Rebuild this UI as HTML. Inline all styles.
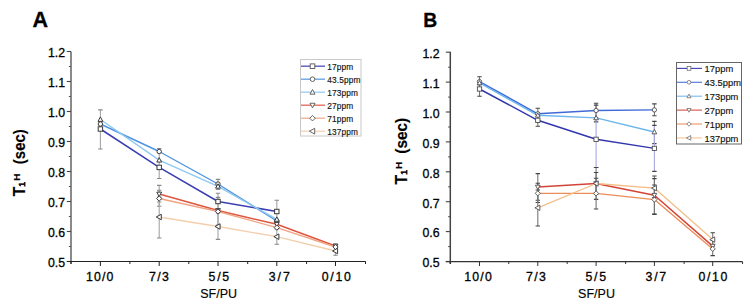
<!DOCTYPE html><html><head><meta charset="utf-8"><style>html,body{margin:0;padding:0;background:#fff;width:749px;height:307px;overflow:hidden}svg{display:block}text{font-family:"Liberation Sans",sans-serif}</style></head><body>
<svg width="749" height="307" viewBox="0 0 749 307">
<text x="32.6" y="26.8" font-size="21.5" font-weight="bold" fill="#000" stroke="#000" stroke-width="0.3">A</text>
<path d="M71 51.5V264" stroke="#8a8a8a" stroke-width="2" fill="none"/>
<path d="M66.8 261.5H71" stroke="#444" stroke-width="1.1" fill="none"/>
<path d="M68.8 246.5H71" stroke="#555" stroke-width="1" fill="none"/>
<text x="65" y="266.8" font-size="12.3" text-anchor="end" fill="#000" stroke="#000" stroke-width="0.3">0.5</text>
<path d="M66.8 231.5H71" stroke="#444" stroke-width="1.1" fill="none"/>
<path d="M68.8 216.5H71" stroke="#555" stroke-width="1" fill="none"/>
<text x="65" y="236.8" font-size="12.3" text-anchor="end" fill="#000" stroke="#000" stroke-width="0.3">0.6</text>
<path d="M66.8 201.5H71" stroke="#444" stroke-width="1.1" fill="none"/>
<path d="M68.8 186.5H71" stroke="#555" stroke-width="1" fill="none"/>
<text x="65" y="206.8" font-size="12.3" text-anchor="end" fill="#000" stroke="#000" stroke-width="0.3">0.7</text>
<path d="M66.8 171.5H71" stroke="#444" stroke-width="1.1" fill="none"/>
<path d="M68.8 156.5H71" stroke="#555" stroke-width="1" fill="none"/>
<text x="65" y="176.8" font-size="12.3" text-anchor="end" fill="#000" stroke="#000" stroke-width="0.3">0.8</text>
<path d="M66.8 141.5H71" stroke="#444" stroke-width="1.1" fill="none"/>
<path d="M68.8 126.5H71" stroke="#555" stroke-width="1" fill="none"/>
<text x="65" y="146.8" font-size="12.3" text-anchor="end" fill="#000" stroke="#000" stroke-width="0.3">0.9</text>
<path d="M66.8 111.5H71" stroke="#444" stroke-width="1.1" fill="none"/>
<path d="M68.8 96.5H71" stroke="#555" stroke-width="1" fill="none"/>
<text x="65" y="116.8" font-size="12.3" text-anchor="end" fill="#000" stroke="#000" stroke-width="0.3">1.0</text>
<path d="M66.8 81.5H71" stroke="#444" stroke-width="1.1" fill="none"/>
<path d="M68.8 66.5H71" stroke="#555" stroke-width="1" fill="none"/>
<text x="65" y="86.8" font-size="12.3" text-anchor="end" fill="#000" stroke="#000" stroke-width="0.3">1.1</text>
<path d="M66.8 51.5H71" stroke="#444" stroke-width="1.1" fill="none"/>
<text x="65" y="56.8" font-size="12.3" text-anchor="end" fill="#000" stroke="#000" stroke-width="0.3">1.2</text>
<path d="M66.8 261.5H365.7" stroke="#222" stroke-width="1.2" fill="none"/>
<path d="M71.00 261.5V264" stroke="#222" stroke-width="1" fill="none"/>
<path d="M129.90 261.5V264" stroke="#222" stroke-width="1" fill="none"/>
<path d="M188.80 261.5V264" stroke="#222" stroke-width="1" fill="none"/>
<path d="M247.70 261.5V264" stroke="#222" stroke-width="1" fill="none"/>
<path d="M306.60 261.5V264" stroke="#222" stroke-width="1" fill="none"/>
<path d="M365.50 261.5V264" stroke="#222" stroke-width="1" fill="none"/>
<path d="M100.40 261.5V266" stroke="#222" stroke-width="1" fill="none"/>
<text x="85.90" y="280.9" font-size="12.3" textLength="27.4" lengthAdjust="spacing" fill="#000" stroke="#000" stroke-width="0.3">10/0</text>
<path d="M159.20 261.5V266" stroke="#222" stroke-width="1" fill="none"/>
<text x="149.05" y="280.9" font-size="12.3" textLength="19.9" lengthAdjust="spacing" fill="#000" stroke="#000" stroke-width="0.3">7/3</text>
<path d="M218.00 261.5V266" stroke="#222" stroke-width="1" fill="none"/>
<text x="208.60" y="280.9" font-size="12.3" textLength="20.6" lengthAdjust="spacing" fill="#000" stroke="#000" stroke-width="0.3">5/5</text>
<path d="M276.80 261.5V266" stroke="#222" stroke-width="1" fill="none"/>
<text x="268.80" y="280.9" font-size="12.3" textLength="21.0" lengthAdjust="spacing" fill="#000" stroke="#000" stroke-width="0.3">3/7</text>
<path d="M335.50 261.5V266" stroke="#222" stroke-width="1" fill="none"/>
<text x="321.80" y="280.9" font-size="12.3" textLength="29.0" lengthAdjust="spacing" fill="#000" stroke="#000" stroke-width="0.3">0/10</text>
<text x="218.7" y="297.6" font-size="12.5" text-anchor="middle" fill="#000" stroke="#000" stroke-width="0.15">SF/PU</text>
<g transform="translate(24.6,196.2) rotate(-90)" font-weight="bold" fill="#000" stroke="#000" stroke-width="0.15"><text x="0" y="0" font-size="15.8">T</text><text x="9.3" y="0.4" font-size="9.5" font-weight="normal" stroke-width="0.55">1</text><text x="15.5" y="-4.6" font-size="9.8">H</text><g transform="translate(32.0,0) scale(0.91,1)"><text x="0" y="0" font-size="16.5">(sec)</text></g></g>
<path d="M100.40 109.90V149.00" stroke="#a4a4a4" stroke-width="1.1" fill="none"/>
<path d="M98.20 109.90H102.60M98.20 149.00H102.60" stroke="#888" stroke-width="1.1" fill="none"/>
<path d="M159.20 148.50V178.50" stroke="#a4a4a4" stroke-width="1.1" fill="none"/>
<path d="M157.00 148.50H161.40M157.00 178.50H161.40" stroke="#888" stroke-width="1.1" fill="none"/>
<path d="M159.20 185.40V202.00" stroke="#a4a4a4" stroke-width="1.1" fill="none"/>
<path d="M157.00 185.40H161.40M157.00 202.00H161.40" stroke="#888" stroke-width="1.1" fill="none"/>
<path d="M159.20 190.20V206.30" stroke="#a4a4a4" stroke-width="1.1" fill="none"/>
<path d="M157.00 190.20H161.40M157.00 206.30H161.40" stroke="#888" stroke-width="1.1" fill="none"/>
<path d="M159.20 197.00V238.00" stroke="#a4a4a4" stroke-width="1.1" fill="none"/>
<path d="M157.00 197.00H161.40M157.00 238.00H161.40" stroke="#888" stroke-width="1.1" fill="none"/>
<path d="M218.00 179.40V189.50" stroke="#a4a4a4" stroke-width="1.1" fill="none"/>
<path d="M215.80 179.40H220.20M215.80 189.50H220.20" stroke="#888" stroke-width="1.1" fill="none"/>
<path d="M218.00 193.20V210.00" stroke="#a4a4a4" stroke-width="1.1" fill="none"/>
<path d="M215.80 193.20H220.20M215.80 210.00H220.20" stroke="#888" stroke-width="1.1" fill="none"/>
<path d="M218.00 197.40V225.00" stroke="#a4a4a4" stroke-width="1.1" fill="none"/>
<path d="M215.80 197.40H220.20M215.80 225.00H220.20" stroke="#888" stroke-width="1.1" fill="none"/>
<path d="M218.00 213.00V239.40" stroke="#a4a4a4" stroke-width="1.1" fill="none"/>
<path d="M215.80 213.00H220.20M215.80 239.40H220.20" stroke="#888" stroke-width="1.1" fill="none"/>
<path d="M276.80 200.20V222.00" stroke="#a4a4a4" stroke-width="1.1" fill="none"/>
<path d="M274.60 200.20H279.00M274.60 222.00H279.00" stroke="#888" stroke-width="1.1" fill="none"/>
<path d="M276.80 229.00V244.20" stroke="#a4a4a4" stroke-width="1.1" fill="none"/>
<path d="M274.60 229.00H279.00M274.60 244.20H279.00" stroke="#888" stroke-width="1.1" fill="none"/>
<path d="M335.50 244.00V255.20" stroke="#a4a4a4" stroke-width="1.1" fill="none"/>
<path d="M333.30 244.00H337.70M333.30 255.20H337.70" stroke="#888" stroke-width="1.1" fill="none"/>
<path d="M100.40 129.00 L159.20 167.40 L218.00 201.50 L276.80 211.50" stroke="#3a3eb2" stroke-width="1.5" fill="none" stroke-linejoin="round"/>
<path d="M100.40 124.00 L159.20 151.50 L218.00 184.00 L276.80 221.00" stroke="#4f94e0" stroke-width="1.4" fill="none" stroke-linejoin="round"/>
<path d="M100.40 119.50 L159.20 160.20 L218.00 186.30 L276.80 219.40" stroke="#8ec8f0" stroke-width="1.4" fill="none" stroke-linejoin="round"/>
<path d="M159.20 194.00 L218.00 210.50 L276.80 224.30 L335.50 246.00" stroke="#df5640" stroke-width="1.5" fill="none" stroke-linejoin="round"/>
<path d="M159.20 198.50 L218.00 211.50 L276.80 227.60 L335.50 247.00" stroke="#efa584" stroke-width="1.35" fill="none" stroke-linejoin="round"/>
<path d="M159.20 217.00 L218.00 226.50 L276.80 236.70 L335.50 251.00" stroke="#f3cfae" stroke-width="1.3" fill="none" stroke-linejoin="round"/>
<rect x="98.20" y="126.80" width="4.40" height="4.40" fill="#fff" stroke="#3a3a3a" stroke-width="1.0"/>
<rect x="157.00" y="165.20" width="4.40" height="4.40" fill="#fff" stroke="#3a3a3a" stroke-width="1.0"/>
<rect x="215.80" y="199.30" width="4.40" height="4.40" fill="#fff" stroke="#3a3a3a" stroke-width="1.0"/>
<rect x="274.60" y="209.30" width="4.40" height="4.40" fill="#fff" stroke="#3a3a3a" stroke-width="1.0"/>
<circle cx="100.40" cy="124.00" r="2.20" fill="#fff" stroke="#3a3a3a" stroke-width="1.0"/>
<circle cx="159.20" cy="151.50" r="2.20" fill="#fff" stroke="#3a3a3a" stroke-width="1.0"/>
<circle cx="218.00" cy="184.00" r="2.20" fill="#fff" stroke="#3a3a3a" stroke-width="1.0"/>
<circle cx="276.80" cy="221.00" r="2.20" fill="#fff" stroke="#3a3a3a" stroke-width="1.0"/>
<polygon points="100.40,116.97 102.82,121.37 97.98,121.37" fill="#fff" stroke="#3a3a3a" stroke-width="1.0"/>
<polygon points="159.20,157.67 161.62,162.07 156.78,162.07" fill="#fff" stroke="#3a3a3a" stroke-width="1.0"/>
<polygon points="218.00,183.77 220.42,188.17 215.58,188.17" fill="#fff" stroke="#3a3a3a" stroke-width="1.0"/>
<polygon points="276.80,216.87 279.22,221.27 274.38,221.27" fill="#fff" stroke="#3a3a3a" stroke-width="1.0"/>
<polygon points="159.20,196.53 161.62,192.13 156.78,192.13" fill="#fff" stroke="#3a3a3a" stroke-width="1.0"/>
<polygon points="218.00,213.03 220.42,208.63 215.58,208.63" fill="#fff" stroke="#3a3a3a" stroke-width="1.0"/>
<polygon points="276.80,226.83 279.22,222.43 274.38,222.43" fill="#fff" stroke="#3a3a3a" stroke-width="1.0"/>
<polygon points="335.50,248.53 337.92,244.13 333.08,244.13" fill="#fff" stroke="#3a3a3a" stroke-width="1.0"/>
<polygon points="159.20,195.86 161.84,198.50 159.20,201.14 156.56,198.50" fill="#fff" stroke="#3a3a3a" stroke-width="1.0"/>
<polygon points="218.00,208.86 220.64,211.50 218.00,214.14 215.36,211.50" fill="#fff" stroke="#3a3a3a" stroke-width="1.0"/>
<polygon points="276.80,224.96 279.44,227.60 276.80,230.24 274.16,227.60" fill="#fff" stroke="#3a3a3a" stroke-width="1.0"/>
<polygon points="335.50,244.36 338.14,247.00 335.50,249.64 332.86,247.00" fill="#fff" stroke="#3a3a3a" stroke-width="1.0"/>
<polygon points="156.23,217.00 161.29,214.25 161.29,219.75" fill="#fff" stroke="#3a3a3a" stroke-width="1.0"/>
<polygon points="215.03,226.50 220.09,223.75 220.09,229.25" fill="#fff" stroke="#3a3a3a" stroke-width="1.0"/>
<polygon points="273.83,236.70 278.89,233.95 278.89,239.45" fill="#fff" stroke="#3a3a3a" stroke-width="1.0"/>
<polygon points="332.53,251.00 337.59,248.25 337.59,253.75" fill="#fff" stroke="#3a3a3a" stroke-width="1.0"/>
<rect x="300.5" y="59.5" width="60.5" height="76.5" fill="#fff" stroke="#c8c8c8" stroke-width="1"/>
<path d="M301 66.20H325" stroke="#3a3eb2" stroke-width="1.4" fill="none" opacity="0.85"/>
<rect x="310.20" y="63.90" width="4.60" height="4.60" fill="#fff" stroke="#555" stroke-width="0.9"/>
<text x="327.2" y="69.50" font-size="8.3" letter-spacing="0.15" fill="#111" stroke="#111" stroke-width="0.15">17ppm</text>
<path d="M301 79.20H325" stroke="#4f94e0" stroke-width="1.4" fill="none" opacity="0.85"/>
<circle cx="312.50" cy="79.20" r="2.30" fill="#fff" stroke="#555" stroke-width="0.9"/>
<text x="327.2" y="82.50" font-size="8.3" letter-spacing="0.15" fill="#111" stroke="#111" stroke-width="0.15">43.5ppm</text>
<path d="M301 92.20H325" stroke="#8ec8f0" stroke-width="1.4" fill="none" opacity="0.85"/>
<polygon points="312.50,89.56 315.03,94.16 309.97,94.16" fill="#fff" stroke="#555" stroke-width="0.9"/>
<text x="327.2" y="95.50" font-size="8.3" letter-spacing="0.15" fill="#111" stroke="#111" stroke-width="0.15">173ppm</text>
<path d="M301 105.20H325" stroke="#df5640" stroke-width="1.4" fill="none" opacity="0.85"/>
<polygon points="312.50,107.84 315.03,103.25 309.97,103.25" fill="#fff" stroke="#555" stroke-width="0.9"/>
<text x="327.2" y="108.50" font-size="8.3" letter-spacing="0.15" fill="#111" stroke="#111" stroke-width="0.15">27ppm</text>
<path d="M301 118.20H325" stroke="#efa584" stroke-width="1.4" fill="none" opacity="0.85"/>
<polygon points="312.50,115.44 315.26,118.20 312.50,120.96 309.74,118.20" fill="#fff" stroke="#555" stroke-width="0.9"/>
<text x="327.2" y="121.50" font-size="8.3" letter-spacing="0.15" fill="#111" stroke="#111" stroke-width="0.15">71ppm</text>
<path d="M301 131.20H325" stroke="#f3cfae" stroke-width="1.4" fill="none" opacity="0.85"/>
<polygon points="309.39,131.20 314.69,128.32 314.69,134.07" fill="#fff" stroke="#555" stroke-width="0.9"/>
<text x="327.2" y="134.50" font-size="8.3" letter-spacing="0.15" fill="#111" stroke="#111" stroke-width="0.15">137ppm</text>
<g transform="translate(423.2,26.6) scale(0.93,1)"><text x="0" y="0" font-size="20.8" font-weight="bold" fill="#000" stroke="#000" stroke-width="0.3">B</text></g>
<path d="M450.3 51.8V264" stroke="#444" stroke-width="1.5" fill="none"/>
<path d="M445.8 261.50H450.3" stroke="#444" stroke-width="1.1" fill="none"/>
<path d="M448.2 246.60H450.3" stroke="#444" stroke-width="1" fill="none"/>
<text x="439.6" y="267.30" font-size="12.3" text-anchor="end" fill="#000" stroke="#000" stroke-width="0.3">0.5</text>
<path d="M445.8 231.60H450.3" stroke="#444" stroke-width="1.1" fill="none"/>
<path d="M448.2 216.70H450.3" stroke="#444" stroke-width="1" fill="none"/>
<text x="439.6" y="237.40" font-size="12.3" text-anchor="end" fill="#000" stroke="#000" stroke-width="0.3">0.6</text>
<path d="M445.8 201.70H450.3" stroke="#444" stroke-width="1.1" fill="none"/>
<path d="M448.2 186.80H450.3" stroke="#444" stroke-width="1" fill="none"/>
<text x="439.6" y="207.50" font-size="12.3" text-anchor="end" fill="#000" stroke="#000" stroke-width="0.3">0.7</text>
<path d="M445.8 171.80H450.3" stroke="#444" stroke-width="1.1" fill="none"/>
<path d="M448.2 156.90H450.3" stroke="#444" stroke-width="1" fill="none"/>
<text x="439.6" y="177.60" font-size="12.3" text-anchor="end" fill="#000" stroke="#000" stroke-width="0.3">0.8</text>
<path d="M445.8 141.90H450.3" stroke="#444" stroke-width="1.1" fill="none"/>
<path d="M448.2 127.00H450.3" stroke="#444" stroke-width="1" fill="none"/>
<text x="439.6" y="147.70" font-size="12.3" text-anchor="end" fill="#000" stroke="#000" stroke-width="0.3">0.9</text>
<path d="M445.8 112.00H450.3" stroke="#444" stroke-width="1.1" fill="none"/>
<path d="M448.2 97.10H450.3" stroke="#444" stroke-width="1" fill="none"/>
<text x="439.6" y="117.80" font-size="12.3" text-anchor="end" fill="#000" stroke="#000" stroke-width="0.3">1.0</text>
<path d="M445.8 82.10H450.3" stroke="#444" stroke-width="1.1" fill="none"/>
<path d="M448.2 67.20H450.3" stroke="#444" stroke-width="1" fill="none"/>
<text x="439.6" y="87.90" font-size="12.3" text-anchor="end" fill="#000" stroke="#000" stroke-width="0.3">1.1</text>
<path d="M445.8 52.20H450.3" stroke="#444" stroke-width="1.1" fill="none"/>
<text x="439.6" y="58.00" font-size="12.3" text-anchor="end" fill="#000" stroke="#000" stroke-width="0.3">1.2</text>
<path d="M445.8 261.6H742.6" stroke="#333" stroke-width="1.2" fill="none"/>
<path d="M450.30 261.6V264" stroke="#333" stroke-width="1" fill="none"/>
<path d="M508.75 261.6V264" stroke="#333" stroke-width="1" fill="none"/>
<path d="M567.20 261.6V264" stroke="#333" stroke-width="1" fill="none"/>
<path d="M625.65 261.6V264" stroke="#333" stroke-width="1" fill="none"/>
<path d="M684.10 261.6V264" stroke="#333" stroke-width="1" fill="none"/>
<path d="M742.55 261.6V264" stroke="#333" stroke-width="1" fill="none"/>
<path d="M479.50 261.6V266" stroke="#333" stroke-width="1" fill="none"/>
<text x="464.15" y="280.9" font-size="12.3" textLength="27.7" lengthAdjust="spacing" fill="#000" stroke="#000" stroke-width="0.3">10/0</text>
<path d="M537.80 261.6V266" stroke="#333" stroke-width="1" fill="none"/>
<text x="526.00" y="280.9" font-size="12.3" textLength="19.8" lengthAdjust="spacing" fill="#000" stroke="#000" stroke-width="0.3">7/3</text>
<path d="M596.10 261.6V266" stroke="#333" stroke-width="1" fill="none"/>
<text x="585.50" y="280.9" font-size="12.3" textLength="20.6" lengthAdjust="spacing" fill="#000" stroke="#000" stroke-width="0.3">5/5</text>
<path d="M654.40 261.6V266" stroke="#333" stroke-width="1" fill="none"/>
<text x="645.60" y="280.9" font-size="12.3" textLength="20.6" lengthAdjust="spacing" fill="#000" stroke="#000" stroke-width="0.3">3/7</text>
<path d="M712.70 261.6V266" stroke="#333" stroke-width="1" fill="none"/>
<text x="698.60" y="280.9" font-size="12.3" textLength="28.8" lengthAdjust="spacing" fill="#000" stroke="#000" stroke-width="0.3">0/10</text>
<text x="596.5" y="297.6" font-size="12.5" text-anchor="middle" fill="#000" stroke="#000" stroke-width="0.15">SF/PU</text>
<g transform="translate(406.8,184.4) rotate(-90)" font-weight="bold" fill="#000" stroke="#000" stroke-width="0.15"><text x="0" y="0" font-size="15.8">T</text><text x="9.3" y="0.4" font-size="9.5" font-weight="normal" stroke-width="0.55">1</text><text x="15.5" y="-4.6" font-size="9.8">H</text><g transform="translate(30.7,0) scale(0.93,1)"><text x="0" y="0" font-size="16.5">(sec)</text></g></g>
<path d="M479.50 76.80V87.60" stroke="#777" stroke-width="1.1" fill="none"/>
<path d="M477.30 76.80H481.70M477.30 87.60H481.70" stroke="#444" stroke-width="1.1" fill="none"/>
<path d="M479.50 84.70V96.20" stroke="#777" stroke-width="1.1" fill="none"/>
<path d="M477.30 84.70H481.70M477.30 96.20H481.70" stroke="#444" stroke-width="1.1" fill="none"/>
<path d="M537.80 108.30V120.50" stroke="#777" stroke-width="1.1" fill="none"/>
<path d="M535.60 108.30H540.00M535.60 120.50H540.00" stroke="#444" stroke-width="1.1" fill="none"/>
<path d="M537.80 113.00V126.20" stroke="#777" stroke-width="1.1" fill="none"/>
<path d="M535.60 113.00H540.00M535.60 126.20H540.00" stroke="#444" stroke-width="1.1" fill="none"/>
<path d="M537.80 173.60V200.20" stroke="#777" stroke-width="1.1" fill="none"/>
<path d="M535.60 173.60H540.00M535.60 200.20H540.00" stroke="#444" stroke-width="1.1" fill="none"/>
<path d="M537.80 183.20V202.50" stroke="#777" stroke-width="1.1" fill="none"/>
<path d="M535.60 183.20H540.00M535.60 202.50H540.00" stroke="#444" stroke-width="1.1" fill="none"/>
<path d="M537.80 190.00V226.00" stroke="#777" stroke-width="1.1" fill="none"/>
<path d="M535.60 190.00H540.00M535.60 226.00H540.00" stroke="#444" stroke-width="1.1" fill="none"/>
<path d="M596.10 103.20V118.00" stroke="#777" stroke-width="1.1" fill="none"/>
<path d="M593.90 103.20H598.30M593.90 118.00H598.30" stroke="#444" stroke-width="1.1" fill="none"/>
<path d="M596.10 105.10V121.90" stroke="#777" stroke-width="1.1" fill="none"/>
<path d="M593.90 105.10H598.30M593.90 121.90H598.30" stroke="#444" stroke-width="1.1" fill="none"/>
<path d="M596.10 111.00V167.50" stroke="#a8a8e0" stroke-width="1.1" fill="none"/>
<path d="M593.90 111.00H598.30M593.90 167.50H598.30" stroke="#444" stroke-width="1.1" fill="none"/>
<path d="M596.10 167.50V199.40" stroke="#777" stroke-width="1.1" fill="none"/>
<path d="M593.90 167.50H598.30M593.90 199.40H598.30" stroke="#444" stroke-width="1.1" fill="none"/>
<path d="M596.10 172.50V194.50" stroke="#777" stroke-width="1.1" fill="none"/>
<path d="M593.90 172.50H598.30M593.90 194.50H598.30" stroke="#444" stroke-width="1.1" fill="none"/>
<path d="M596.10 178.20V209.00" stroke="#777" stroke-width="1.1" fill="none"/>
<path d="M593.90 178.20H598.30M593.90 209.00H598.30" stroke="#444" stroke-width="1.1" fill="none"/>
<path d="M654.40 103.90V115.80" stroke="#777" stroke-width="1.1" fill="none"/>
<path d="M652.20 103.90H656.60M652.20 115.80H656.60" stroke="#444" stroke-width="1.1" fill="none"/>
<path d="M654.40 121.40V143.60" stroke="#777" stroke-width="1.1" fill="none"/>
<path d="M652.20 121.40H656.60M652.20 143.60H656.60" stroke="#444" stroke-width="1.1" fill="none"/>
<path d="M654.40 125.40V171.40" stroke="#a8a8e0" stroke-width="1.1" fill="none"/>
<path d="M652.20 125.40H656.60M652.20 171.40H656.60" stroke="#444" stroke-width="1.1" fill="none"/>
<path d="M654.40 176.00V214.40" stroke="#777" stroke-width="1.1" fill="none"/>
<path d="M652.20 176.00H656.60M652.20 214.40H656.60" stroke="#444" stroke-width="1.1" fill="none"/>
<path d="M654.40 178.60V197.60" stroke="#777" stroke-width="1.1" fill="none"/>
<path d="M652.20 178.60H656.60M652.20 197.60H656.60" stroke="#444" stroke-width="1.1" fill="none"/>
<path d="M654.40 185.00V214.00" stroke="#777" stroke-width="1.1" fill="none"/>
<path d="M652.20 185.00H656.60M652.20 214.00H656.60" stroke="#444" stroke-width="1.1" fill="none"/>
<path d="M712.70 232.80V246.00" stroke="#777" stroke-width="1.1" fill="none"/>
<path d="M710.50 232.80H714.90M710.50 246.00H714.90" stroke="#444" stroke-width="1.1" fill="none"/>
<path d="M712.70 240.00V255.60" stroke="#777" stroke-width="1.1" fill="none"/>
<path d="M710.50 240.00H714.90M710.50 255.60H714.90" stroke="#444" stroke-width="1.1" fill="none"/>
<path d="M479.50 89.00 L537.80 120.30 L596.10 139.30 L654.40 148.40" stroke="#3136ac" stroke-width="1.45" fill="none" stroke-linejoin="round"/>
<path d="M479.50 81.60 L537.80 113.80 L596.10 110.50 L654.40 109.90" stroke="#3f6ad8" stroke-width="1.45" fill="none" stroke-linejoin="round"/>
<path d="M479.50 83.00 L537.80 115.30 L596.10 117.90 L654.40 132.00" stroke="#6cb6ec" stroke-width="1.4" fill="none" stroke-linejoin="round"/>
<path d="M537.80 187.00 L596.10 183.50 L654.40 195.20 L712.70 246.10" stroke="#d24438" stroke-width="1.5" fill="none" stroke-linejoin="round"/>
<path d="M537.80 193.30 L596.10 193.40 L654.40 199.60 L712.70 248.90" stroke="#ec8c58" stroke-width="1.35" fill="none" stroke-linejoin="round"/>
<path d="M537.80 207.80 L596.10 183.50 L654.40 188.10 L712.70 239.60" stroke="#f5be88" stroke-width="1.3" fill="none" stroke-linejoin="round"/>
<rect x="477.35" y="86.85" width="4.30" height="4.30" fill="#fff" stroke="#444" stroke-width="0.85"/>
<rect x="535.65" y="118.15" width="4.30" height="4.30" fill="#fff" stroke="#444" stroke-width="0.85"/>
<rect x="593.95" y="137.15" width="4.30" height="4.30" fill="#fff" stroke="#444" stroke-width="0.85"/>
<rect x="652.25" y="146.25" width="4.30" height="4.30" fill="#fff" stroke="#444" stroke-width="0.85"/>
<circle cx="479.50" cy="81.60" r="2.15" fill="#fff" stroke="#444" stroke-width="0.85"/>
<circle cx="537.80" cy="113.80" r="2.15" fill="#fff" stroke="#444" stroke-width="0.85"/>
<circle cx="596.10" cy="110.50" r="2.15" fill="#fff" stroke="#444" stroke-width="0.85"/>
<circle cx="654.40" cy="109.90" r="2.15" fill="#fff" stroke="#444" stroke-width="0.85"/>
<polygon points="479.50,80.53 481.87,84.83 477.13,84.83" fill="#fff" stroke="#444" stroke-width="0.85"/>
<polygon points="537.80,112.83 540.16,117.13 535.43,117.13" fill="#fff" stroke="#444" stroke-width="0.85"/>
<polygon points="596.10,115.43 598.47,119.73 593.74,119.73" fill="#fff" stroke="#444" stroke-width="0.85"/>
<polygon points="654.40,129.53 656.76,133.83 652.03,133.83" fill="#fff" stroke="#444" stroke-width="0.85"/>
<polygon points="537.80,189.47 540.16,185.17 535.43,185.17" fill="#fff" stroke="#444" stroke-width="0.85"/>
<polygon points="596.10,185.97 598.47,181.67 593.74,181.67" fill="#fff" stroke="#444" stroke-width="0.85"/>
<polygon points="654.40,197.67 656.76,193.37 652.03,193.37" fill="#fff" stroke="#444" stroke-width="0.85"/>
<polygon points="712.70,248.57 715.07,244.27 710.34,244.27" fill="#fff" stroke="#444" stroke-width="0.85"/>
<polygon points="537.80,190.72 540.38,193.30 537.80,195.88 535.22,193.30" fill="#fff" stroke="#444" stroke-width="0.85"/>
<polygon points="596.10,190.82 598.68,193.40 596.10,195.98 593.52,193.40" fill="#fff" stroke="#444" stroke-width="0.85"/>
<polygon points="654.40,197.02 656.98,199.60 654.40,202.18 651.82,199.60" fill="#fff" stroke="#444" stroke-width="0.85"/>
<polygon points="712.70,246.32 715.28,248.90 712.70,251.48 710.12,248.90" fill="#fff" stroke="#444" stroke-width="0.85"/>
<polygon points="534.90,207.80 539.84,205.11 539.84,210.49" fill="#fff" stroke="#444" stroke-width="0.85"/>
<polygon points="593.20,183.50 598.14,180.81 598.14,186.19" fill="#fff" stroke="#444" stroke-width="0.85"/>
<polygon points="651.50,188.10 656.44,185.41 656.44,190.79" fill="#fff" stroke="#444" stroke-width="0.85"/>
<polygon points="709.80,239.60 714.74,236.91 714.74,242.29" fill="#fff" stroke="#444" stroke-width="0.85"/>
<rect x="676.5" y="62.5" width="65" height="81.5" fill="#fff" stroke="#666" stroke-width="1"/>
<path d="M677 68.40H702" stroke="#3136ac" stroke-width="1.15" fill="none" opacity="0.9"/>
<rect x="687.15" y="66.55" width="3.70" height="3.70" fill="#fff" stroke="#666" stroke-width="0.75"/>
<text x="704.5" y="72.40" font-size="9.3" letter-spacing="0.05" fill="#111" stroke="#111" stroke-width="0.15">17ppm</text>
<path d="M677 82.30H702" stroke="#3f6ad8" stroke-width="1.15" fill="none" opacity="0.9"/>
<circle cx="689.00" cy="82.30" r="1.85" fill="#fff" stroke="#666" stroke-width="0.75"/>
<text x="704.5" y="86.30" font-size="9.3" letter-spacing="0.05" fill="#111" stroke="#111" stroke-width="0.15">43.5ppm</text>
<path d="M677 96.20H702" stroke="#6cb6ec" stroke-width="1.15" fill="none" opacity="0.9"/>
<polygon points="689.00,94.07 691.03,97.77 686.97,97.77" fill="#fff" stroke="#666" stroke-width="0.75"/>
<text x="704.5" y="100.20" font-size="9.3" letter-spacing="0.05" fill="#111" stroke="#111" stroke-width="0.15">173ppm</text>
<path d="M677 110.10H702" stroke="#d24438" stroke-width="1.15" fill="none" opacity="0.9"/>
<polygon points="689.00,112.23 691.03,108.53 686.97,108.53" fill="#fff" stroke="#666" stroke-width="0.75"/>
<text x="704.5" y="114.10" font-size="9.3" letter-spacing="0.05" fill="#111" stroke="#111" stroke-width="0.15">27ppm</text>
<path d="M677 124.00H702" stroke="#ec8c58" stroke-width="1.15" fill="none" opacity="0.9"/>
<polygon points="689.00,121.78 691.22,124.00 689.00,126.22 686.78,124.00" fill="#fff" stroke="#666" stroke-width="0.75"/>
<text x="704.5" y="128.00" font-size="9.3" letter-spacing="0.05" fill="#111" stroke="#111" stroke-width="0.15">71ppm</text>
<path d="M677 137.90H702" stroke="#f5be88" stroke-width="1.15" fill="none" opacity="0.9"/>
<polygon points="686.50,137.90 690.76,135.59 690.76,140.21" fill="#fff" stroke="#666" stroke-width="0.75"/>
<text x="704.5" y="141.90" font-size="9.3" letter-spacing="0.05" fill="#111" stroke="#111" stroke-width="0.15">137ppm</text>
</svg></body></html>
